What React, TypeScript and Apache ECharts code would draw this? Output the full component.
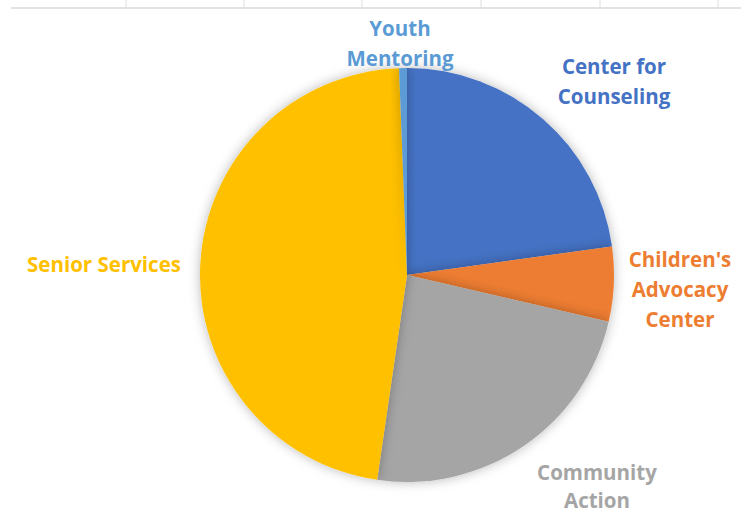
import React, { useEffect, useRef } from "react";
import * as echarts from "echarts";

const categories = [
  "Center for\nCounseling",
  "Children's\nAdvocacy\nCenter",
  "Community\nAction",
  "Senior Services",
  "Youth\nMentoring",
];
const values = [22.8, 5.83, 23.67, 47.08, 0.61];
const colors = ["#4472C4", "#ED7D31", "#A5A5A5", "#FFC000", "#5B9BD5"];

// label anchor centres and line heights (layout, not data)
const labelCenters: [number, number][] = [
  [614, 81],
  [680, 289],
  [597, 486],
  [104, 264],
  [400, 43],
];
const labelLineHeights = [30, 30, 28, 30, 30];
const gridX = [126, 244, 362, 481, 600, 718];

export default function App() {
  const ref = useRef<HTMLDivElement>(null);
  useEffect(() => {
    const chart = echarts.init(ref.current!, null, { renderer: "svg" });
    chart.setOption({
      animation: false,
      backgroundColor: "#ffffff",
      graphic: [
        {
          type: "line",
          shape: { x1: 11, y1: 8, x2: 741, y2: 8 },
          style: { stroke: "#d9d9d9", lineWidth: 1.5 },
          silent: true,
        },
        ...gridX.map((x) => ({
          type: "line",
          shape: { x1: x, y1: 0, x2: x, y2: 8 },
          style: { stroke: "#dedede", lineWidth: 1 },
          silent: true,
        })),
      ],
      series: [
        {
          type: "pie",
          center: [407, 275],
          radius: [0, 207],
          startAngle: 90,
          clockwise: true,
          avoidLabelOverlap: false,
          itemStyle: {
            borderWidth: 0,
            shadowBlur: 12,
            shadowColor: "rgba(0,0,0,0.28)",
          },
          label: {
            show: true,
            position: "outside",
            fontFamily: "'Open Sans', sans-serif",
            fontWeight: "bold",
            fontSize: 20.5,
            lineHeight: 30,
            align: "center",
            verticalAlign: "middle",
            formatter: (p: any) => p.name,
            color: "inherit",
          },
          labelLine: { show: false },
          labelLayout: (p: any) => {
            const c = labelCenters[p.dataIndex];
            return {
              x: c[0],
              y: c[1],
              align: "center",
              verticalAlign: "middle",
            };
          },
          data: categories.map((name, i) => ({
            name,
            value: values[i],
            itemStyle: { color: colors[i] },
            label: { color: colors[i], lineHeight: labelLineHeights[i] },
          })),
        },
      ],
    });
    return () => chart.dispose();
  }, []);
  return (
    <div
      ref={ref}
      style={{ position: "fixed", left: 0, top: 0, width: 741, height: 514 }}
    />
  );
}
